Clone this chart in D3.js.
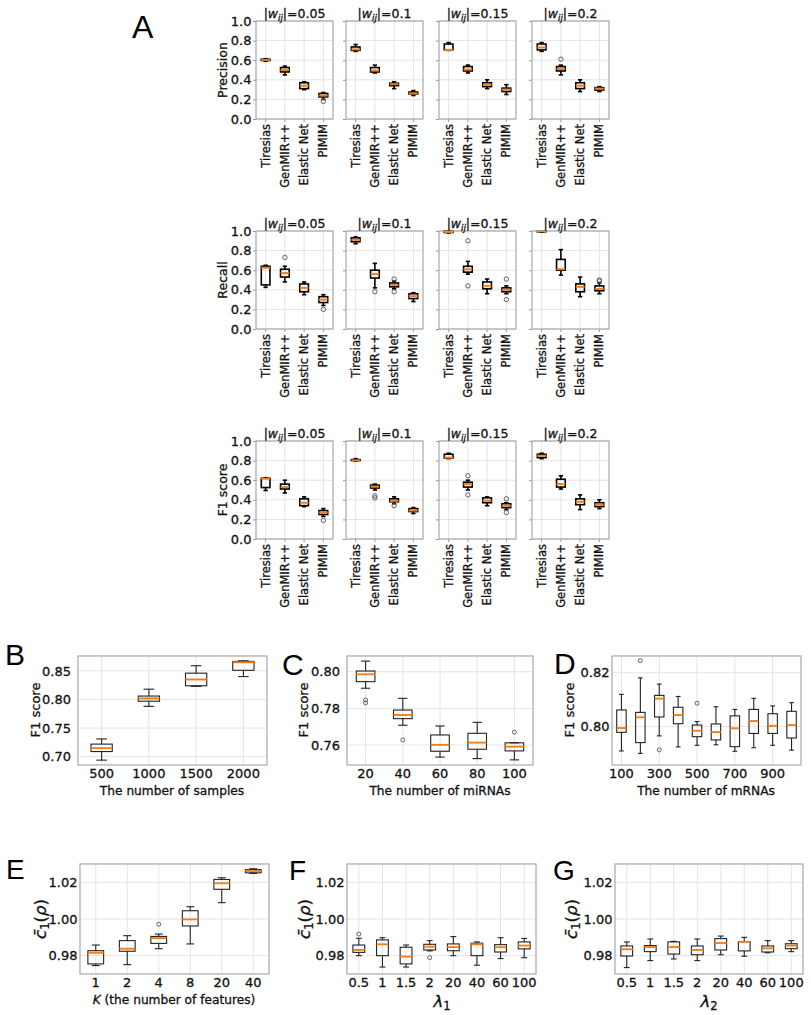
<!DOCTYPE html>
<html><head><meta charset="utf-8">
<script src="https://cdn.jsdelivr.net/npm/d3@7"></script>
<style>body{margin:0;background:#fff} svg text{stroke:#111;stroke-width:0.3px}</style>
</head><body><svg id="c" width="811" height="1015"></svg>
<script>
// ---------------- DATA ----------------
// each box: [whisker low, Q1, median, Q3, whisker high]
const methods = ["Tiresias", "GenMIR++", "Elastic Net", "PIMIM"];
const weightLabels = ["0.05", "0.1", "0.15", "0.2"];
const scoreTicks = [0.0, 0.2, 0.4, 0.6, 0.8, 1.0];

const precisionBoxes = [
  [[0.590,0.597,0.603,0.610,0.615],[0.45,0.48,0.50,0.525,0.54],[0.30,0.31,0.34,0.37,0.38],[0.20,0.225,0.24,0.26,0.27]],
  [[0.69,0.70,0.71,0.735,0.76],[0.47,0.48,0.495,0.525,0.55],[0.31,0.34,0.355,0.365,0.38],[0.24,0.255,0.26,0.275,0.29]],
  [[0.70,0.705,0.705,0.765,0.78],[0.47,0.49,0.505,0.535,0.55],[0.31,0.33,0.35,0.37,0.40],[0.25,0.28,0.30,0.315,0.35]],
  [[0.69,0.705,0.73,0.765,0.78],[0.45,0.49,0.51,0.535,0.55],[0.28,0.31,0.34,0.37,0.40],[0.28,0.295,0.31,0.32,0.33]]
];
const precisionOutliers = [
  [[],[],[],[0.18]],
  [[],[],[],[]],
  [[],[],[],[]],
  [[],[0.61],[],[]]
];
const recallBoxes = [
  [[0.425,0.45,0.625,0.64,0.65],[0.48,0.53,0.57,0.61,0.64],[0.35,0.38,0.42,0.46,0.48],[0.24,0.27,0.30,0.33,0.35]],
  [[0.87,0.89,0.91,0.93,0.94],[0.42,0.52,0.56,0.60,0.67],[0.41,0.43,0.45,0.47,0.49],[0.28,0.31,0.335,0.36,0.37]],
  [[0.98,0.985,0.99,1.0,1.0],[0.56,0.58,0.61,0.64,0.69],[0.36,0.41,0.44,0.48,0.51],[0.36,0.38,0.40,0.42,0.44]],
  [[0.99,0.992,0.998,1.0,1.0],[0.55,0.60,0.61,0.71,0.81],[0.33,0.38,0.43,0.46,0.53],[0.36,0.39,0.41,0.44,0.47]]
];
const recallOutliers = [
  [[],[0.73],[],[0.20]],
  [[],[0.38],[0.38,0.51],[]],
  [[],[0.90,0.44],[],[0.51,0.30]],
  [[],[],[],[0.50,0.49]]
];
const f1Boxes = [
  [[0.495,0.525,0.615,0.62,0.625],[0.47,0.51,0.53,0.56,0.60],[0.33,0.34,0.37,0.41,0.43],[0.23,0.25,0.27,0.29,0.31]],
  [[0.795,0.80,0.802,0.81,0.82],[0.50,0.52,0.535,0.55,0.56],[0.36,0.38,0.39,0.41,0.43],[0.26,0.28,0.29,0.31,0.32]],
  [[0.82,0.825,0.83,0.865,0.875],[0.50,0.53,0.56,0.58,0.60],[0.34,0.37,0.39,0.42,0.43],[0.30,0.32,0.34,0.36,0.37]],
  [[0.82,0.83,0.85,0.865,0.875],[0.51,0.53,0.56,0.61,0.645],[0.30,0.35,0.38,0.41,0.45],[0.31,0.33,0.35,0.37,0.40]]
];
const f1Outliers = [
  [[],[],[],[0.19]],
  [[],[0.44,0.42],[0.34],[]],
  [[],[0.645,0.45],[],[0.41,0.27]],
  [[],[],[],[]]
];

const sampleSizes = ["500", "1000", "1500", "2000"];
const sampleTicks = [0.70, 0.75, 0.80, 0.85];
const sampleBoxes = [[0.694,0.709,0.715,0.722,0.731],[0.788,0.797,0.802,0.806,0.818],[0.823,0.824,0.835,0.846,0.859],[0.840,0.851,0.865,0.8665,0.8676]];
const sampleOutliers = [[],[],[],[]];

const mirnaCounts = ["20", "40", "60", "80", "100"];
const mirnaTicks = [0.76, 0.78, 0.80];
const mirnaBoxes = [[0.791,0.7946,0.7986,0.8004,0.8058],[0.7708,0.7744,0.7764,0.7791,0.7855],[0.7534,0.7566,0.7601,0.7655,0.7704],[0.7526,0.7577,0.7613,0.7664,0.7724],[0.7519,0.7568,0.7591,0.7612,0.7612]];
const mirnaOutliers = [[0.7846,0.7830],[0.7628],[],[],[0.767]];

const mrnaCounts = ["100","200","300","400","500","600","700","800","900","1000"];
const mrnaTickLabels = ["100","300","500","700","900"];
const mrnaTicks = [0.80, 0.82];
const mrnaBoxes = [[0.791,0.7979,0.7995,0.8062,0.812],[0.7901,0.7941,0.8035,0.8053,0.8181],[0.7966,0.8036,0.8104,0.8116,0.8158],[0.7925,0.8011,0.8043,0.8072,0.8112],[0.7931,0.7963,0.7985,0.8006,0.8019],[0.7933,0.7951,0.798,0.801,0.8074],[0.7909,0.7926,0.7994,0.804,0.8064],[0.7922,0.7975,0.8021,0.8064,0.8105],[0.7931,0.7975,0.8003,0.8048,0.8077],[0.7913,0.7958,0.8006,0.8057,0.8089]];
const mrnaOutliers = [[],[0.8245],[0.7914],[],[0.8087],[],[],[],[],[]];

const cTicks = [0.98, 1.00, 1.02];
const featureCounts = ["1","2","4","8","20","40"];
const featureBoxes = [[0.9746,0.9755,0.9816,0.9827,0.9858],[0.9751,0.9824,0.9838,0.9882,0.9909],[0.9838,0.9867,0.9896,0.9905,0.9918],[0.9864,0.9962,0.9998,1.0045,1.0067],[1.0089,1.0162,1.0195,1.0216,1.0225],[1.0249,1.0252,1.0262,1.0269,1.0274]];
const featureOutliers = [[],[],[0.9971],[],[],[]];

const lambdaLabels = ["0.5","1","1.5","2","20","40","60","100"];
const lambda1Boxes = [[0.980,0.9818,0.9831,0.9858,0.9895],[0.9738,0.980,0.9862,0.9886,0.9898],[0.9738,0.9755,0.9795,0.9846,0.9858],[0.9826,0.9831,0.9849,0.9862,0.9882],[0.980,0.9827,0.9847,0.9864,0.9904],[0.9748,0.980,0.9862,0.9868,0.9875],[0.9784,0.982,0.9846,0.986,0.9898],[0.9789,0.9837,0.9855,0.9875,0.9894]];
const lambda1Outliers = [[0.9918],[],[],[0.9789],[],[],[],[]];
const lambda2Boxes = [[0.9735,0.9798,0.9835,0.9853,0.9875],[0.9773,0.9822,0.9847,0.9855,0.9891],[0.9782,0.9809,0.9847,0.9875,0.9878],[0.9773,0.9805,0.9831,0.9853,0.9891],[0.9805,0.9831,0.9869,0.9893,0.9907],[0.9797,0.9826,0.9875,0.9877,0.990],[0.9816,0.982,0.984,0.9853,0.9882],[0.9822,0.9838,0.9855,0.9865,0.9882]];
const lambda2Outliers = [[],[],[],[],[],[],[],[]];

// ---------------- DRAWING ----------------
const FONT = "'DejaVu Sans', sans-serif";
const LETTER_FONT = "'Liberation Sans', Arial, sans-serif";
const ORANGE = "#f57f17";
const svg = d3.select("#c");

function panel(c) {
  const g = svg.append("g");
  const x = d3.scaleBand().domain(c.cats).range([c.x0, c.x0 + c.w]);
  const y = d3.scaleLinear().domain(c.yDomain).range([c.y0 + c.h, c.y0]);
  const cx = d => x(d) + x.bandwidth() / 2;
  const bw = x.bandwidth() * c.boxFrac;
  const xt = c.xTicks || c.cats;
  // grid
  g.selectAll(null).data(c.yTicks).join("line")
    .attr("x1", c.x0).attr("x2", c.x0 + c.w)
    .attr("y1", d => y(d)).attr("y2", d => y(d))
    .attr("stroke", "#e4e4e4").attr("stroke-width", 1);
  g.selectAll(null).data(xt).join("line")
    .attr("x1", cx).attr("x2", cx).attr("y1", c.y0).attr("y2", c.y0 + c.h)
    .attr("stroke", "#e4e4e4").attr("stroke-width", 1);
  // axes
  const yAxis = d3.axisLeft(y).tickValues(c.yTicks).tickSize(c.tickLen).tickPadding(c.yPad)
    .tickFormat(c.showY ? d3.format(c.yFmt) : () => "");
  g.append("g").attr("transform", `translate(${c.x0},0)`).call(yAxis)
    .attr("font-family", FONT).attr("font-size", c.yFont)
    .call(a => { a.select(".domain").remove(); a.selectAll(".tick line").attr("stroke", "#999"); a.selectAll(".tick text").attr("fill", "#111"); });
  const xAxis = d3.axisBottom(x).tickValues(xt).tickSize(c.tickLen).tickPadding(c.xPad);
  const xa = g.append("g").attr("transform", `translate(0,${c.y0 + c.h})`).call(xAxis)
    .attr("font-family", FONT).attr("font-size", c.xFont)
    .call(a => { a.select(".domain").remove(); a.selectAll(".tick line").attr("stroke", "#999"); a.selectAll(".tick text").attr("fill", "#111"); });
  if (c.rotate) {
    xa.selectAll(".tick text").attr("transform", "rotate(-90)")
      .attr("x", -(c.tickLen + c.xPad)).attr("y", 0).attr("dy", "0.35em").attr("text-anchor", "end");
  }
  // boxes
  const items = c.stats.map((s, i) => ({ cat: c.cats[i], s, o: c.outl[i] || [] }));
  const b = g.selectAll(null).data(items).join("g");
  b.append("line").attr("x1", d => cx(d.cat)).attr("x2", d => cx(d.cat))
    .attr("y1", d => y(d.s[0])).attr("y2", d => y(d.s[1]))
    .attr("stroke", c.boxColor).attr("stroke-width", c.boxSW);
  b.append("line").attr("x1", d => cx(d.cat)).attr("x2", d => cx(d.cat))
    .attr("y1", d => y(d.s[3])).attr("y2", d => y(d.s[4]))
    .attr("stroke", c.boxColor).attr("stroke-width", c.boxSW);
  [0, 4].forEach(k => {
    b.append("line").attr("x1", d => cx(d.cat) - bw / 4).attr("x2", d => cx(d.cat) + bw / 4)
      .attr("y1", d => y(d.s[k])).attr("y2", d => y(d.s[k]))
      .attr("stroke", c.boxColor).attr("stroke-width", c.boxSW);
  });
  b.append("rect").attr("x", d => cx(d.cat) - bw / 2).attr("width", bw)
    .attr("y", d => y(d.s[3])).attr("height", d => Math.max(0.5, y(d.s[1]) - y(d.s[3])))
    .attr("fill", "none").attr("stroke", c.boxColor).attr("stroke-width", c.boxSW);
  b.append("line").attr("x1", d => cx(d.cat) - bw / 2).attr("x2", d => cx(d.cat) + bw / 2)
    .attr("y1", d => y(d.s[2])).attr("y2", d => y(d.s[2]))
    .attr("stroke", ORANGE).attr("stroke-width", c.medSW);
  b.selectAll("circle").data(d => d.o.map(v => ({ cat: d.cat, v }))).join("circle")
    .attr("cx", d => cx(d.cat)).attr("cy", d => y(d.v)).attr("r", c.outR)
    .attr("fill", "none").attr("stroke", "#555").attr("stroke-width", 0.9);
  // frame
  g.append("rect").attr("x", c.x0).attr("y", c.y0).attr("width", c.w).attr("height", c.h)
    .attr("fill", "none").attr("stroke", "#a8a8a8").attr("stroke-width", 1.2);
  return g;
}

function letter(t, x, y, size) {
  svg.append("text").attr("x", x).attr("y", y).attr("font-family", LETTER_FONT)
    .attr("font-size", size).attr("fill", "#000").style("stroke", "none").text(t);
}

function yLabel(cx, cy, size, build) {
  const t = svg.append("text").attr("transform", `translate(${cx},${cy}) rotate(-90)`)
    .attr("text-anchor", "middle").attr("dy", "0.35em")
    .attr("font-family", FONT).attr("font-size", size).attr("fill", "#111");
  build(t);
}

// ---- Panel A ----
const aLefts = [256, 346, 439, 532];
const aTops = [21, 231, 441];
const aRows = [
  { name: "Precision", boxes: precisionBoxes, outl: precisionOutliers },
  { name: "Recall", boxes: recallBoxes, outl: recallOutliers },
  { name: "F1 score", boxes: f1Boxes, outl: f1Outliers }
];
aRows.forEach((row, r) => {
  weightLabels.forEach((wl, j) => {
    const x0 = aLefts[j], y0 = aTops[r], w = 77, h = 98;
    panel({ x0, y0, w, h, cats: methods, yDomain: [0, 1.0], yTicks: scoreTicks, yFmt: ".1f",
      stats: row.boxes[j], outl: row.outl[j], boxFrac: 0.45, showY: j === 0,
      rotate: true, xFont: 11.5, yFont: 13, yPad: 1.5, xPad: 2, tickLen: 3,
      boxColor: "#000", boxSW: 1.6, medSW: 2, outR: 2.2 });
    const t = svg.append("text").attr("x", x0 + w / 2).attr("y", y0 - 3.5)
      .attr("text-anchor", "middle").attr("font-family", FONT).attr("font-size", 12.5).attr("fill", "#111");
    t.append("tspan").text("|");
    t.append("tspan").attr("font-style", "italic").text("w");
    t.append("tspan").attr("font-style", "italic").attr("font-size", 8.5).attr("dy", 3).text("ij");
    t.append("tspan").attr("dy", -3).text("|=" + wl);
  });
  yLabel(223, aTops[r] + 49, 12.5, t => t.text(row.name));
});
letter("A", 132, 38, 32);

// ---- Panels B, C, D ----
const rowBTop = 656, rowBH = 109;
const common = { rotate: false, xFont: 13, yFont: 13, xPad: 4, tickLen: 0, boxColor: "#222", boxSW: 1.1, medSW: 1.9, outR: 2 };
panel(Object.assign({}, common, { x0: 78, y0: rowBTop, w: 189, h: rowBH, cats: sampleSizes, yDomain: [0.6855, 0.876], yTicks: sampleTicks, yFmt: ".2f",
  stats: sampleBoxes, outl: sampleOutliers, boxFrac: 0.45, showY: true, yPad: 7 }));
panel(Object.assign({}, common, { x0: 347, y0: rowBTop, w: 186, h: rowBH, cats: mirnaCounts, yDomain: [0.7491, 0.8086], yTicks: mirnaTicks, yFmt: ".2f",
  stats: mirnaBoxes, outl: mirnaOutliers, boxFrac: 0.5, showY: true, yPad: 7 }));
panel(Object.assign({}, common, { x0: 612, y0: rowBTop, w: 189, h: rowBH, cats: mrnaCounts, xTicks: mrnaTickLabels, yDomain: [0.7858, 0.8262], yTicks: mrnaTicks, yFmt: ".2f",
  stats: mrnaBoxes, outl: mrnaOutliers, boxFrac: 0.5, showY: true, yPad: 2.5 }));

function xLabel(cx, y, size, build) {
  const t = svg.append("text").attr("x", cx).attr("y", y).attr("text-anchor", "middle")
    .attr("font-family", FONT).attr("font-size", size).attr("fill", "#111");
  build(t);
}
xLabel(172, 795, 12.2, t => t.text("The number of samples"));
xLabel(440, 795, 12.2, t => t.text("The number of miRNAs"));
xLabel(706, 795, 12.2, t => t.text("The number of mRNAs"));
yLabel(35, 710, 13, t => t.text("F1 score"));
yLabel(303, 710, 13, t => t.text("F1 score"));
yLabel(569, 710, 13, t => t.text("F1 score"));
letter("B", 5, 665, 30);
letter("C", 282, 675, 30);
letter("D", 554, 674, 30);

// ---- Panels E, F, G ----
const rowETop = 864, rowEH = 110;
panel(Object.assign({}, common, { x0: 80, y0: rowETop, w: 189, h: rowEH, cats: featureCounts, yDomain: [0.970, 1.030], yTicks: cTicks, yFmt: ".2f",
  stats: featureBoxes, outl: featureOutliers, boxFrac: 0.5, showY: true, yPad: 2.5 }));
panel(Object.assign({}, common, { x0: 347, y0: rowETop, w: 189, h: rowEH, cats: lambdaLabels, yDomain: [0.970, 1.030], yTicks: cTicks, yFmt: ".2f",
  stats: lambda1Boxes, outl: lambda1Outliers, boxFrac: 0.5, showY: true, yPad: 2.5 }));
panel(Object.assign({}, common, { x0: 615, y0: rowETop, w: 188, h: rowEH, cats: lambdaLabels, yDomain: [0.970, 1.030], yTicks: cTicks, yFmt: ".2f",
  stats: lambda2Boxes, outl: lambda2Outliers, boxFrac: 0.5, showY: true, yPad: 2.5 }));

xLabel(174, 1004, 12.2, t => {
  t.append("tspan").attr("font-style", "italic").text("K");
  t.append("tspan").text(" (the number of features)");
});
function lambdaLabel(cx, sub) {
  xLabel(cx, 1007, 16.5, t => {
    t.append("tspan").attr("font-style", "italic").text("λ");
    t.append("tspan").attr("font-size", 11.5).attr("dy", 3).text(sub);
  });
}
lambdaLabel(442, "1");
lambdaLabel(709, "2");
function cLabel(cx) {
  yLabel(cx, 919, 16.5, t => {
    t.append("tspan").attr("font-style", "italic").text("c\u0304");
    t.append("tspan").attr("font-size", 11.5).attr("dy", 3).text("1");
    t.append("tspan").attr("dy", -3).text("(");
    t.append("tspan").attr("font-style", "italic").text("ρ");
    t.append("tspan").text(")");
  });
}
cLabel(40);
cLabel(304);
cLabel(571);
letter("E", 6, 879, 28);
letter("F", 289, 880, 28);
letter("G", 553, 880, 28);
</script>
</body></html>
